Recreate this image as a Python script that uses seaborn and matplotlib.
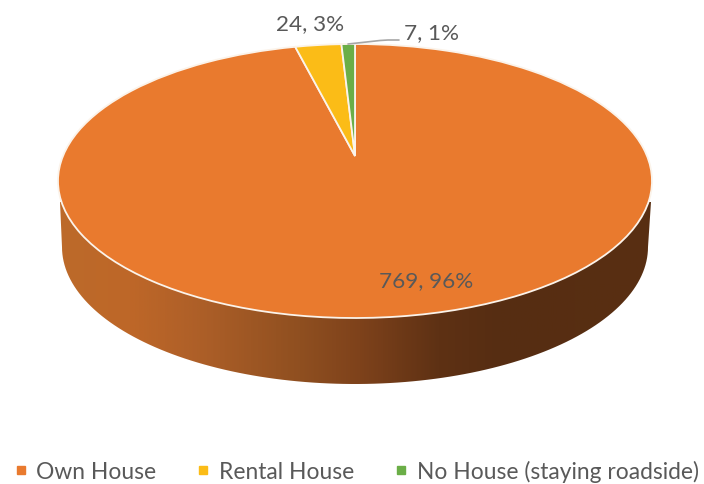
import numpy as np
import matplotlib
matplotlib.use("Agg")
import matplotlib.pyplot as plt
import matplotlib.transforms as mtransforms
from matplotlib.colors import LinearSegmentedColormap
from matplotlib.lines import Line2D
from matplotlib.patches import PathPatch
from matplotlib.path import Path
import seaborn as sns

categories = ["Own House", "Rental House", "No House (staying roadside)"]
counts = [769, 24, 7]
slice_colors = ["#E97A2E", "#FBBC17", "#6BAE47"]

W, H = 704, 485
CX, CY, RX, RY = 355, 182, 297, 137   # top ellipse, pixels
APEX_SHIFT = 25 / 137                 # perspective shift of the pie centre

sns.set_theme(style="white")
plt.rcParams["font.family"] = ["Lato", "DejaVu Sans"]
palette = sns.color_palette(slice_colors)
TEXT = "#595959"


def to_data(px, py):
    return (px - CX) / RX, (CY - py) / RY


class Perspective(mtransforms.Transform):
    input_dims = output_dims = 2
    is_separable = False
    has_inverse = False

    def transform_non_affine(self, xy):
        xy = np.asarray(xy, dtype=float)
        x, y = xy[:, 0], xy[:, 1]
        den = 1 + APEX_SHIFT * y
        return np.column_stack((x * np.sqrt(1 - APEX_SHIFT ** 2) / den,
                                (y + APEX_SHIFT) / den))


fig = plt.figure(figsize=(W / 100, H / 100), dpi=100)
ax = fig.add_axes([0, 0, 1, 1])

# Side wall with horizontal shading
side_stops = [(58, "#BC6A2A"), (130, "#BE6728"), (200, "#AD5F28"), (300, "#8F4F20"),
              (360, "#7E421B"), (440, "#5E3114"), (500, "#562D12"), (652, "#592F12")]
side_cmap = LinearSegmentedColormap.from_list(
    "side", [((p - 58) / (652 - 58), c) for p, c in side_stops])
img = ax.imshow(np.linspace(0, 1, 600)[None, :], cmap=side_cmap, aspect="auto",
                extent=[to_data(58, 0)[0], to_data(652, 0)[0],
                        to_data(0, 390)[1], to_data(0, 180)[1]], zorder=1)
theta = np.linspace(np.pi, 2 * np.pi, 120)
bx, by = to_data(355 + 293 * np.cos(theta), 248 - 137 * np.sin(theta))
verts = [to_data(60, 203)] + list(zip(bx, by)) + [to_data(651, 203), to_data(60, 203)]
clip = PathPatch(Path(verts), transform=ax.transData, fc="none", ec="none")
ax.add_patch(clip)
img.set_clip_path(clip)

# Top face
wedges, _ = ax.pie(counts, colors=palette, startangle=90, counterclock=False, radius=1,
                   wedgeprops=dict(edgecolor="#FBF3EA", linewidth=1.3))
persp = Perspective()
for w in wedges:
    w.set_transform(persp + ax.transData)
    w.set_zorder(3)

ax.set_aspect("auto")
ax.set_xlim(to_data(0, 0)[0], to_data(W, 0)[0])
ax.set_ylim(to_data(0, H)[1], to_data(0, 0)[1])
ax.axis("off")

# Data labels
total = sum(counts)
labels = [f"{v}, {round(v / total * 100)}%" for v in counts]
label_pos = [(426, 281), (310, 24), (431, 33)]
for text, (px, py) in zip(labels, label_pos):
    x, y = to_data(px, py)
    ax.text(x, y, text, ha="center", va="center", fontsize=16.2, color=TEXT, zorder=5)

# Leader line for the smallest slice
lx, ly = zip(*[to_data(*p) for p in [(348, 45), (362, 43.5), (380, 41.5), (388, 41), (399, 41)]])
ax.plot(lx, ly, color="#A6A6A6", lw=1.2, zorder=4, solid_capstyle="round")

# Legend
handles = [Line2D([], [], ls="none", marker="s", ms=6.2, mfc=c, mec=c) for c in palette]
ax.legend(handles, categories, ncols=3, frameon=False, loc="center",
          bbox_to_anchor=(357 / W, 1 - 472 / H), fontsize=16.4, labelcolor=TEXT,
          handlelength=0.5, handletextpad=0.45, columnspacing=1.8, borderpad=0, borderaxespad=0)

fig.savefig("out.png", dpi=100)
